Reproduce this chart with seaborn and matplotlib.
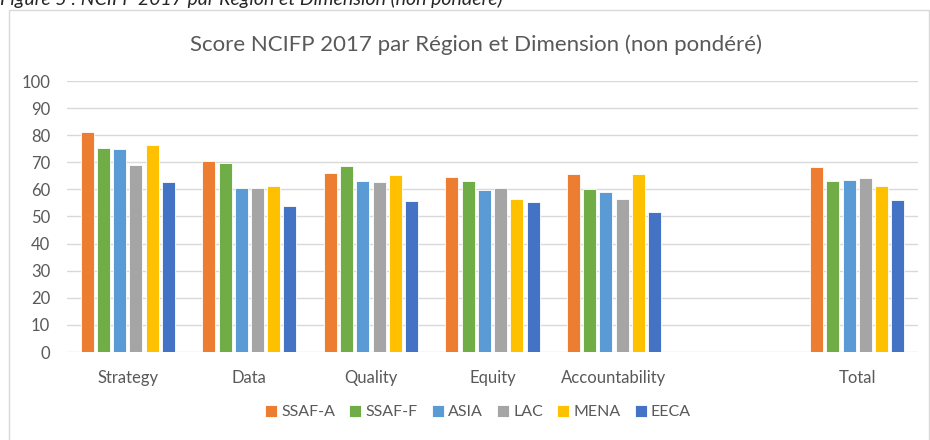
import matplotlib
matplotlib.use("Agg")
import matplotlib.pyplot as plt
import matplotlib.patches as mpatches
import seaborn as sns
import pandas as pd

dimensions = ["Strategy", "Data", "Quality", "Equity", "Accountability", "Total"]
axis_order = ["Strategy", "Data", "Quality", "Equity", "Accountability", " ", "Total"]
regions = ["SSAF-A", "SSAF-F", "ASIA", "LAC", "MENA", "EECA"]
colors = ["#ED7D31", "#70AD47", "#5B9BD5", "#A5A5A5", "#FFC000", "#4472C4"]

ssaf_a = [81.3, 70.5, 65.9, 64.7, 65.6, 68.4]
ssaf_f = [75.3, 69.9, 68.6, 63.1, 60.0, 63.1]
asia = [74.9, 60.6, 63.0, 59.9, 59.0, 63.6]
lac = [68.9, 60.6, 62.6, 60.6, 56.5, 64.1]
mena = [76.3, 61.3, 65.3, 56.3, 65.8, 61.4]
eeca = [62.7, 54.0, 55.6, 55.5, 51.5, 56.0]

yticks = [0, 10, 20, 30, 40, 50, 60, 70, 80, 90, 100]

series = [ssaf_a, ssaf_f, asia, lac, mena, eeca]
rows = []
for reg, vals in zip(regions, series):
    for dim, v in zip(dimensions, vals):
        rows.append({"Dimension": dim, "Region": reg, "Score": v})
df = pd.DataFrame(rows)

sns.set_theme(style="white")
plt.rcParams["font.family"] = ["Lato", "DejaVu Sans"]

fig = plt.figure(figsize=(9.3, 4.4), dpi=100)
ax = fig.add_axes([67 / 930, 1 - 352 / 440, (918 - 67) / 930, (352 - 81) / 440])

sns.barplot(data=df, x="Dimension", y="Score", hue="Region", order=axis_order,
            hue_order=regions, palette=colors, width=0.8, gap=0.2,
            edgecolor="white", linewidth=0.6, saturation=1, errorbar=None, ax=ax,
            zorder=3)

ax.set_ylim(0, 100)
ax.set_xlim(-0.5, 6.5)
ax.set_yticks(yticks)
ax.set_yticklabels([str(t) for t in yticks])
ax.yaxis.grid(True, color="#D9D9D9", linewidth=1.0, zorder=0)
ax.set_axisbelow(True)
for s in ax.spines.values():
    s.set_visible(False)
ax.tick_params(axis="both", length=0, colors="#595959", labelsize=12)
ax.tick_params(axis="x", pad=13)
ax.tick_params(axis="y", pad=12)
ax.set_xlabel("")
ax.set_ylabel("")

leg = ax.legend(loc="center", bbox_to_anchor=(0.514, 0.063), bbox_transform=fig.transFigure,
                ncol=6, frameon=False, handlelength=0.75, handleheight=0.75,
                columnspacing=0.9, handletextpad=0.25, fontsize=11.5)
for t in leg.get_texts():
    t.set_color("#595959")

fig.text(476 / 930, 1 - 45 / 440, "Score NCIFP 2017 par Région et Dimension (non pondéré)",
         ha="center", va="center", fontsize=16, color="#595959")

fig.text(0.0, 1 - 5 / 440, "Figure 5 : NCIFP 2017 par Région et Dimension (non pondéré)",
         ha="left", va="baseline", fontsize=14, style="italic", color="#262626")

border = mpatches.Rectangle((9 / 930, -0.05), (929 - 9) / 930, 1.05 - 10.5 / 440,
                            transform=fig.transFigure, fill=False,
                            edgecolor="#D9D9D9", linewidth=1.0, clip_on=False)
fig.patches.append(border)

fig.savefig("out.png", dpi=100)
